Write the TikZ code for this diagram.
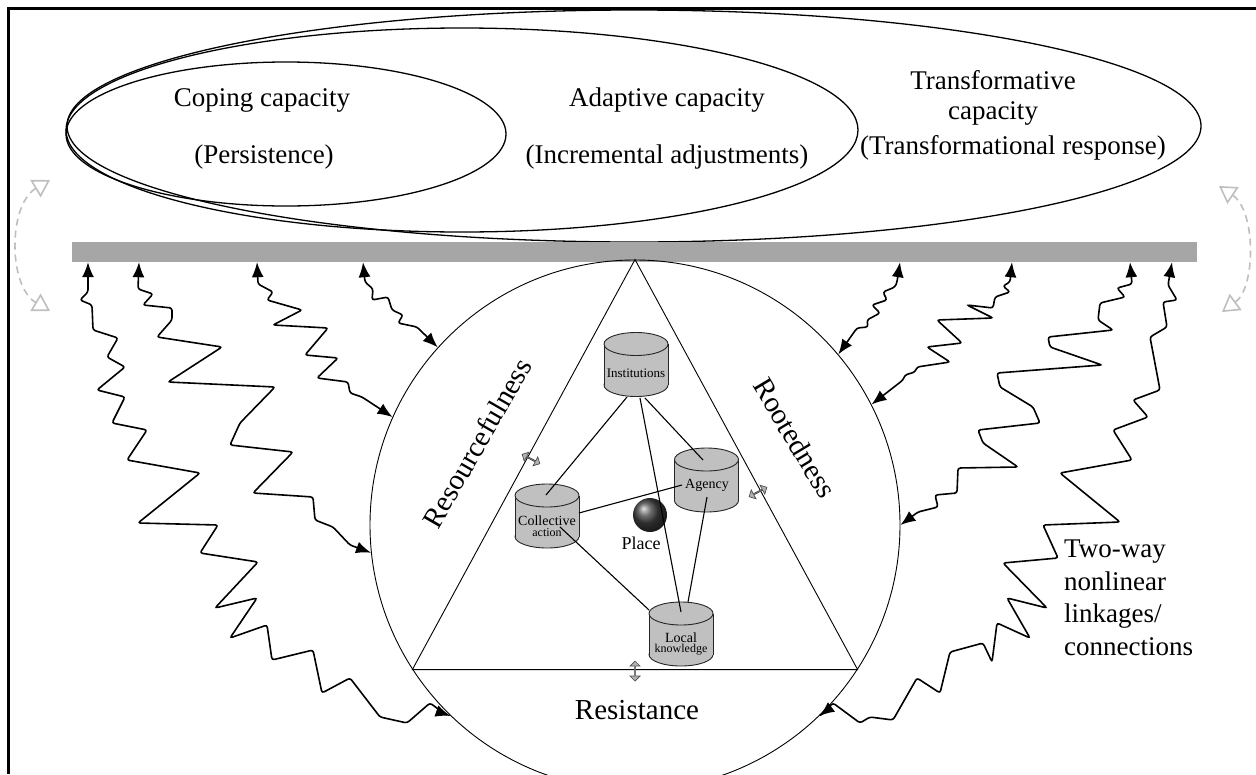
\documentclass[tikz,border=0pt]{standalone}
\usepackage{fontspec}
\setmainfont{Liberation Serif}
\usetikzlibrary{arrows.meta,shapes.arrows,calc}
\definecolor{barg}{RGB}{166,166,166}
\definecolor{drumg}{RGB}{192,192,192}
\definecolor{swingg}{RGB}{190,190,190}
% a gray drum: centre x, centre y
\newcommand\drum[2]{%
  \draw[drumline, fill=drumg] (#1,#2+20.5) ellipse [x radius=32, y radius=11.5];
  \fill[drumg] (#1-32,#2-20.5) rectangle (#1+32,#2+20.5);
  \draw[drumline] (#1-32,#2-20.5) -- (#1-32,#2+20.5) (#1+32,#2-20.5) -- (#1+32,#2+20.5);
  \draw[drumline, fill=drumg] (#1,#2-20.5) ellipse [x radius=32, y radius=11.5];
}
\begin{document}
\begin{tikzpicture}[x=1pt,y=-1pt,
  capfont/.style={font=\fontsize{27}{32}\selectfont, inner sep=0pt},
  bigfont/.style={font=\fontsize{29}{34}\selectfont, inner sep=0pt},
  frameline/.style={line width=3pt},
  oval/.style={draw, line width=1.3pt},
  drumline/.style={draw=black!85, line width=0.9pt},
  drumtext/.style={inner sep=0pt, align=center},
  link/.style={line width=1.1pt},
  wave/.style={line width=1.6pt, rounded corners=2.5pt,
    {Latex[length=15pt,width=12pt]}-{Latex[length=15pt,width=12pt]}},
  swing/.style={draw=swingg, line width=1.6pt, dash pattern=on 7pt off 5pt,
    {Triangle[open,length=17pt,width=20pt]}-{Triangle[open,length=17pt,width=20pt]}},
  nudge/.style={double arrow, draw=black!70, fill=black!30, line width=0.7pt,
    minimum height=20pt, minimum width=10pt, double arrow head extend=2.5pt, inner sep=0pt},
]
\useasboundingbox (0,0) rectangle (1256,774);

% frame
\draw[frameline] (8,774) -- (8,8) -- (1256,8);

% nested capacity ovals
\draw[oval] (634,126) ellipse [x radius=567, y radius=116];
\draw[oval] (462,130) ellipse [x radius=396, y radius=102];
\draw[oval] (286,134) ellipse [x radius=220, y radius=72];

\node[capfont] (cope) at (262,100) {Coping capacity};
\node[capfont] (persist) at (264,157) {(Persistence)};
\node[capfont] (adapt) at (667,100) {Adaptive capacity};
\node[capfont] (incr) at (667,157) {(Incremental adjustments)};
\node[capfont] (transf) at (993,80) {Transformative};
\node[capfont] (transcap) at (993,113) {capacity};
\node[capfont] (transresp) at (1013,148) {(Transformational response)};

% grey bar
\node[fill=barg, inner sep=0pt, minimum width=1125pt, minimum height=20pt] (bar) at (634.5,252) {};

% curved dashed feedback arrows at both ends
\coordinate (lt) at (50,180);
\coordinate (lb) at (50,311);
\coordinate (rt) at (1219,186);
\coordinate (rb) at (1222,312);
\draw[swing] (lt) .. controls (8,205) and (8,286) .. (lb);
\draw[swing] (rt) .. controls (1256,211) and (1256,287) .. (rb);

% the place circle and triangle
\node[circle, draw, line width=0.9pt, minimum size=530pt, inner sep=0pt] (ring) at (635,525) {};
\draw[line width=0.9pt] (ring.90) -- (ring.213.7) -- (ring.-33.7) -- cycle;

\node[bigfont, rotate=60] (resf) at (477,443) {Resourcefulness};
\node[bigfont, rotate=-59] (root) at (795,438) {Rootedness};
\node[bigfont] (resist) at (637,710) {Resistance};

\node[nudge, rotate=-28] (nl) at (531,459) {};
\node[nudge, rotate=28] (nr) at (758,492) {};
\node[nudge, rotate=90] (nb) at (635,671) {};

% drums
\drum{636}{364.5}
\drum{706.5}{480}
\drum{547}{516}
\drum{681}{634}
\node[drumtext, font=\fontsize{13}{14}\selectfont] (inst) at (636,373) {Institutions};
\node[drumtext, font=\fontsize{14}{15}\selectfont] (agency) at (707,485) {Agency};
\node[drumtext] (coll) at (547,526) {{\fontsize{14}{15}\selectfont Collective}\\[-1pt]{\fontsize{12}{13}\selectfont action}};
\node[drumtext] (local) at (681,644) {{\fontsize{14}{15}\selectfont Local}\\[-2pt]{\fontsize{12}{13}\selectfont knowledge}};

% place
\node[circle, inner sep=0pt, minimum size=34pt, ball color=black!75] (place) at (650,515) {};
\node[font=\fontsize{18}{20}\selectfont, inner sep=0pt] (placelbl) at (641,543) {Place};

% links between drums
\draw[link] ($(inst)+(-9,24)$) -- ($(coll)+(-1,-31)$);
\draw[link] ($(inst)+(4,25)$) -- ($(local)+(0,-32)$);
\draw[link] ($(inst)+(9,25)$) -- ($(agency)+(-4,-25)$);
\draw[link] ($(coll)+(32,-13)$) -- ($(agency)+(-25,0)$);
\draw[link] ($(coll)+(13,1)$) -- ($(local)+(-32,-34)$);
\draw[link] ($(agency)+(0,12)$) -- ($(local)+(7,-42)$);

% two-way nonlinear linkages
\coordinate (b1) at (88,0 |- bar.south);
\coordinate (b2) at (139,0 |- bar.south);
\coordinate (b3) at (257,0 |- bar.south);
\coordinate (b4) at (363,0 |- bar.south);
\coordinate (b5) at (900,0 |- bar.south);
\coordinate (b6) at (1012,0 |- bar.south);
\coordinate (b7) at (1130,0 |- bar.south);
\coordinate (b8) at (1172,0 |- bar.south);

\draw[wave] (b1) -- (88,292) -- (80,300) -- (92,305) -- (93,330) -- (118,338) -- (107,357)
  -- (125,367) -- (97,390) -- (125,397) -- (112,423) -- (147,430) -- (127,460) -- (200,473)
  -- (138,523) -- (218,525) -- (200,553) -- (258,562) -- (215,608) -- (257,598) -- (230,638)
  -- (267,625) -- (272,660) -- (313,650) -- (322,693) -- (350,678) -- (380,717) -- (407,723)
  -- (430,703) -- (445,714) -- (ring.226);
\draw[wave] (b2) -- (138,289) -- (153,294) -- (143,305) -- (172,308) -- (172,320) -- (157,337)
  -- (222,347) -- (168,382) -- (275,387) -- (240,423) -- (230,445) -- (293,452) -- (253,493)
  -- (313,497) -- (315,520) -- (333,527) -- (350,545) -- (ring.186.4);
\draw[wave] (b3) -- (258,284) -- (273,292) -- (267,300) -- (302,310) -- (273,325) -- (328,328)
  -- (305,355) -- (338,358) -- (317,378) -- (348,382) -- (350,393) -- (362,397) -- (ring.156.7);
\draw[wave] (b4) -- (365,282) -- (373,289) -- (372,300) -- (388,297) -- (392,310) -- (403,315)
  -- (398,323) -- (417,327) -- (ring.138.2);

\draw[wave] (b5) -- (897,282) -- (895,287) -- (883,292) -- (887,300) -- (872,305) -- (880,313)
  -- (867,320) -- (868,327) -- (857,328) -- (ring.40.9);
\draw[wave] (b6) -- (1010,282) -- (1003,286) -- (1010,292) -- (995,297) -- (993,308) -- (967,305)
  -- (993,318) -- (937,320) -- (962,343) -- (927,347) -- (950,362) -- (917,367) -- (915,372)
  -- (905,375) -- (903,380) -- (ring.27.8);
\draw[wave] (b7) -- (1132,284) -- (1117,288) -- (1125,297) -- (1100,303) -- (1098,320) -- (1113,330)
  -- (1048,337) -- (1050,347) -- (1102,365) -- (997,373) -- (1000,387) -- (1033,407) -- (1040,423)
  -- (978,430) -- (983,443) -- (1018,467) -- (958,468) -- (957,493) -- (935,495) -- (938,507)
  -- (918,512) -- (ring.-0.4);
\draw[wave] (b8) -- (1168,285) -- (1177,300) -- (1163,302) -- (1167,327) -- (1150,337) -- (1160,390)
  -- (1133,400) -- (1148,417) -- (1113,430) -- (1132,460) -- (1060,473) -- (1120,522) -- (1043,525)
  -- (1058,558) -- (1003,563) -- (1047,608) -- (1007,598) -- (1030,638) -- (997,623) -- (992,662)
  -- (983,643) -- (950,652) -- (940,693) -- (917,678) -- (893,720) -- (870,717) -- (860,723)
  -- (833,703) -- (822,714) -- (ring.-46);

\node[font=\fontsize{27}{32.5}\selectfont, align=left, anchor=west, inner sep=0pt] (twoway) at (1064,598)
  {Two-way\\nonlinear\\linkages/\\connections};
\end{tikzpicture}
\end{document}
